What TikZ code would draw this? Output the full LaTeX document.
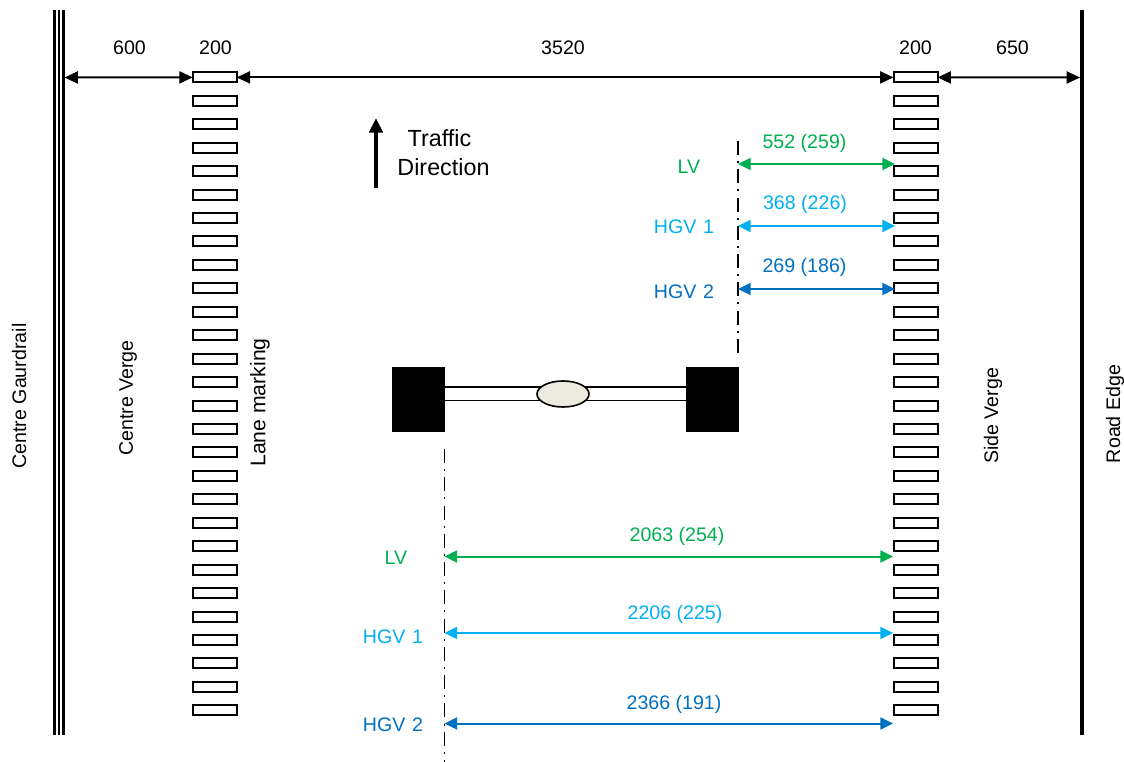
\documentclass[tikz,border=0pt]{standalone}
\usepackage{fontspec}
\setmainfont{Liberation Sans}
\usetikzlibrary{arrows.meta,shapes.geometric}
\definecolor{lvgreen}{HTML}{00B050}
\definecolor{hgvone}{HTML}{00B0F0}
\definecolor{hgvtwo}{HTML}{0070C0}
\definecolor{hubfill}{HTML}{EDEBE0}
\begin{document}
\begin{tikzpicture}[x=0.75pt,y=-0.75pt,
  lbl/.style={inner sep=0pt,font=\fontsize{14.7}{17}\selectfont},
  biglbl/.style={inner sep=0pt,font=\fontsize{17.5}{20}\selectfont},
  vlbl/.style={lbl,rotate=90},
  lanemark/.style={draw=black,line width=1.5pt,fill=white,minimum width=33pt,minimum height=7.5pt,inner sep=0pt,outer sep=0pt},
  dim/.style={draw=black,line width=1.5pt,{Triangle[length=10pt,width=9pt]}-{Triangle[length=10pt,width=9pt]}},
  cdim/.style={line width=1.5pt,{Triangle[length=9.5pt,width=9pt]}-{Triangle[length=9.5pt,width=9pt]}},
  centreline/.style={draw=black,line width=1pt,dash pattern=on 10.5pt off 4.6pt on 1.5pt off 4.6pt},
  wheel/.style={fill=black,draw=none,minimum width=40pt,minimum height=48.75pt,inner sep=0pt,outer sep=0pt},
  railline/.style={line width=1.95pt},
  axleline/.style={draw=black,line width=1.3pt}]
\useasboundingbox (0,0) rectangle (1124,762);
% rails
\draw[railline] (54.3,10) -- (54.3,735);
\draw[railline] (58.8,10) -- (58.8,735);
\draw[railline] (63.3,10) -- (63.3,735);
\coordinate (railL) at (64.5,77.5);
\draw[line width=3.4pt] (1082,10) -- (1082,735);
\coordinate (railR) at (1080,77.5);
% lane markings
\foreach \i in {0,...,27}{
  \node[lanemark] (ml\i) at (214.7,{77.4+23.44*\i}) {};
  \node[lanemark] (mr\i) at (915.5,{77.4+23.44*\i}) {};
}
% top dimensions
\draw[dim] (railL) -- (ml0.west);
\draw[dim] (ml0.east) -- (mr0.west);
\draw[dim] (mr0.east) -- (railR);
\node[lbl] (t600) at (129.5,48) {600};
\node[lbl] (t200a) at (215.5,48) {200};
\node[lbl] (t3520) at (563,48) {3520};
\node[lbl] (t200b) at (915.5,48) {200};
\node[lbl] (t650) at (1012.5,48) {650};
% traffic direction
\coordinate (trafA) at (376,188);
\coordinate (trafB) at (376,118);
\draw[line width=3pt,-{Triangle[length=11pt,width=10pt]}] (trafA) -- (trafB);
\node[biglbl] (traffic) at (439.5,138) {Traffic};
\node[biglbl] (direction) at (443.5,167) {Direction};
% vertical labels
\node[vlbl] (cg) at (19,396) {Centre Gaurdrail};
\node[vlbl] (cv) at (128,398) {Centre Verge};
\node[vlbl,font=\fontsize{15.9}{18}\selectfont] (lm) at (260,402.5) {Lane marking};
\node[vlbl] (sv) at (993,416) {Side Verge};
\node[vlbl] (re) at (1115,414) {Road Edge};
% axle
\node[wheel] (wl) at (418.7,399.5) {};
\node[wheel] (wr) at (712.5,399.5) {};
\draw[axleline] (wl.east |- 0,387) -- (wr.west |- 0,387);
\draw[axleline] (wl.east |- 0,400.5) -- (wr.west |- 0,400.5);
\node[draw=black,line width=1.2pt,fill=hubfill,ellipse,minimum width=39pt,minimum height=19.5pt,inner sep=0pt] (hub) at (563,394) {};
% centre lines
\coordinate (cuT) at (738,141);
\coordinate (cuB) at (738,355);
\coordinate (clT) at (444.5,449);
\coordinate (clB) at (444.5,762);
\draw[centreline] (cuT) -- (cuB);
\draw[centreline] (clT) -- (clB);
% upper offsets
\coordinate (a1) at (738,164); \coordinate (b1) at (895,164);
\coordinate (a2) at (738,226); \coordinate (b2) at (895,226);
\coordinate (a3) at (738,289); \coordinate (b3) at (895,289);
\draw[cdim,lvgreen] (a1) -- (b1);
\draw[cdim,hgvone] (a2) -- (b2);
\draw[cdim,hgvtwo] (a3) -- (b3);
\node[lbl,text=lvgreen] (l1) at (689,167) {LV};
\node[lbl,text=hgvone] (l2) at (684,227) {HGV\hspace{0.35em}1};
\node[lbl,text=hgvtwo] (l3) at (684,292) {HGV\hspace{0.35em}2};
\node[lbl,text=lvgreen] (v1) at (804.5,143) {552 (259)};
\node[lbl,text=hgvone] (v2) at (805,204) {368 (226)};
\node[lbl,text=hgvtwo] (v3) at (804.5,267) {269 (186)};
% lower offsets
\coordinate (c1) at (444.5,556.5); \coordinate (d1) at (893,556.5);
\coordinate (c2) at (444.5,633); \coordinate (d2) at (893,633);
\coordinate (c3) at (444.5,723.5); \coordinate (d3) at (893,723.5);
\draw[cdim,lvgreen] (c1) -- (d1);
\draw[cdim,hgvone] (c2) -- (d2);
\draw[cdim,hgvtwo] (c3) -- (d3);
\node[lbl,text=lvgreen] (l4) at (396,558) {LV};
\node[lbl,text=hgvone] (l5) at (393,637) {HGV\hspace{0.35em}1};
\node[lbl,text=hgvtwo] (l6) at (393,725) {HGV\hspace{0.35em}2};
\node[lbl,text=lvgreen] (v4) at (677,536) {2063 (254)};
\node[lbl,text=hgvone] (v5) at (675,614) {2206 (225)};
\node[lbl,text=hgvtwo] (v6) at (674,704) {2366 (191)};
\end{tikzpicture}
\end{document}
